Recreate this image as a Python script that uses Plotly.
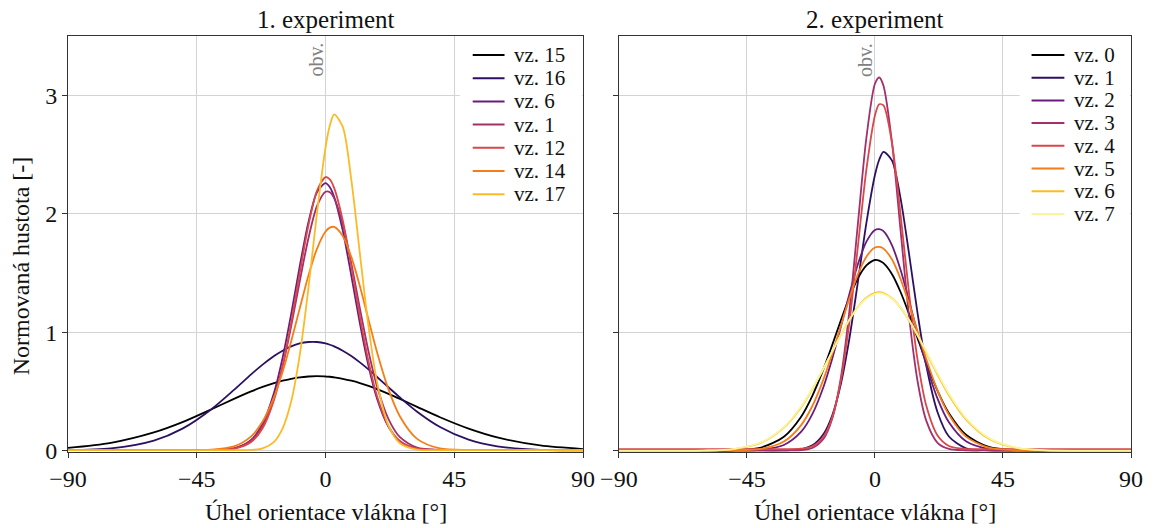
import plotly.graph_objects as go

# ---- data ----
angles = [-90, -75, -60, -50, -40, -32, -26, -22, -18, -15, -12, -9, -6, -3, 0, 1.5,
          3, 6, 9, 12, 15, 18, 22, 26, 32, 40, 50, 60, 75, 90]

# 1. experiment
names1 = ["vz. 15", "vz. 16", "vz. 6", "vz. 1", "vz. 12", "vz. 14", "vz. 17"]
vz15 = [0.024, 0.067, 0.155, 0.242, 0.349, 0.438, 0.501, 0.539, 0.572, 0.592, 0.608, 0.620, 0.627, 0.630, 0.627, 0.625,
        0.620, 0.608, 0.592, 0.572, 0.548, 0.521, 0.481, 0.438, 0.371, 0.283, 0.187, 0.113, 0.045, 0.015]
vz16 = [0.006, 0.020, 0.086, 0.187, 0.349, 0.514, 0.645, 0.727, 0.800, 0.845, 0.881, 0.906, 0.918, 0.918, 0.906, 0.895,
        0.881, 0.845, 0.800, 0.746, 0.687, 0.623, 0.536, 0.450, 0.330, 0.201, 0.094, 0.038, 0.008, 0.004]
vz6a = [0.006, 0.006, 0.006, 0.006, 0.007, 0.020, 0.092, 0.228, 0.490, 0.786, 1.156, 1.560, 1.927, 2.181, 2.259, 2.224,
        2.143, 1.860, 1.479, 1.076, 0.718, 0.440, 0.202, 0.080, 0.018, 0.007, 0.006, 0.006, 0.006, 0.006]
vz1a = [0.006, 0.006, 0.006, 0.006, 0.007, 0.020, 0.087, 0.211, 0.446, 0.714, 1.053, 1.432, 1.792, 2.064, 2.186, 2.182,
        2.132, 1.914, 1.581, 1.201, 0.840, 0.542, 0.267, 0.115, 0.027, 0.008, 0.006, 0.006, 0.006, 0.006]
vz12 = [0.006, 0.006, 0.006, 0.006, 0.007, 0.017, 0.074, 0.191, 0.430, 0.714, 1.083, 1.501, 1.900, 2.193, 2.310, 2.290,
        2.219, 1.946, 1.556, 1.135, 0.756, 0.461, 0.208, 0.081, 0.018, 0.007, 0.006, 0.006, 0.006, 0.006]
vz14 = [0.006, 0.006, 0.006, 0.006, 0.010, 0.037, 0.122, 0.247, 0.453, 0.667, 0.924, 1.204, 1.478, 1.704, 1.850, 1.883,
        1.889, 1.813, 1.636, 1.389, 1.108, 0.832, 0.518, 0.290, 0.101, 0.020, 0.007, 0.006, 0.006, 0.006]
vz17 = [0.006, 0.006, 0.006, 0.006, 0.006, 0.006, 0.008, 0.020, 0.076, 0.190, 0.418, 0.810, 1.368, 2.006, 2.561, 2.744,
        2.839, 2.735, 2.288, 1.664, 1.051, 0.580, 0.212, 0.064, 0.010, 0.006, 0.006, 0.006, 0.006, 0.006]
series1 = [vz15, vz16, vz6a, vz1a, vz12, vz14, vz17]

# 2. experiment
names2 = ["vz. 0", "vz. 1", "vz. 2", "vz. 3", "vz. 4", "vz. 5", "vz. 6", "vz. 7"]
vz0 = [0.003, 0.003, 0.003, 0.004, 0.028, 0.119, 0.286, 0.464, 0.695, 0.894, 1.100, 1.293, 1.455, 1.564, 1.610, 1.605,
       1.583, 1.490, 1.340, 1.153, 0.949, 0.747, 0.506, 0.317, 0.135, 0.033, 0.005, 0.003, 0.003, 0.003]
vz1b = [0.003, 0.003, 0.003, 0.003, 0.003, 0.004, 0.013, 0.046, 0.144, 0.300, 0.562, 0.945, 1.424, 1.923, 2.327, 2.456,
        2.522, 2.449, 2.130, 1.660, 1.158, 0.724, 0.326, 0.121, 0.021, 0.004, 0.003, 0.003, 0.003, 0.003]
vz2 = [0.003, 0.003, 0.003, 0.003, 0.009, 0.049, 0.159, 0.310, 0.545, 0.778, 1.045, 1.321, 1.574, 1.765, 1.864, 1.870,
       1.853, 1.734, 1.527, 1.267, 0.989, 0.728, 0.440, 0.240, 0.080, 0.015, 0.004, 0.003, 0.003, 0.003]
vz3 = [0.003, 0.003, 0.003, 0.003, 0.003, 0.003, 0.006, 0.024, 0.104, 0.273, 0.614, 1.176, 1.913, 2.642, 3.097, 3.150,
       3.080, 2.600, 1.862, 1.132, 0.585, 0.257, 0.068, 0.016, 0.004, 0.003, 0.003, 0.003, 0.003, 0.003]
vz4 = [0.015, 0.015, 0.015, 0.015, 0.015, 0.015, 0.018, 0.039, 0.121, 0.282, 0.590, 1.082, 1.723, 2.375, 2.830, 2.924,
       2.914, 2.593, 1.993, 1.326, 0.765, 0.384, 0.129, 0.041, 0.015, 0.015, 0.015, 0.015, 0.015, 0.015]
vz5 = [0.003, 0.003, 0.003, 0.004, 0.016, 0.078, 0.215, 0.378, 0.609, 0.821, 1.053, 1.284, 1.488, 1.638, 1.715, 1.720,
       1.706, 1.614, 1.450, 1.239, 1.006, 0.777, 0.508, 0.304, 0.120, 0.026, 0.004, 0.003, 0.003, 0.003]
vz6b = [0.000, 0.000, 0.002, 0.013, 0.068, 0.195, 0.366, 0.520, 0.697, 0.838, 0.978, 1.107, 1.213, 1.291, 1.332, 1.338,
        1.330, 1.287, 1.208, 1.100, 0.970, 0.829, 0.642, 0.469, 0.265, 0.102, 0.022, 0.003, 0.000, 0.000]
vz7 = [0.000, 0.000, 0.002, 0.015, 0.072, 0.200, 0.371, 0.523, 0.699, 0.839, 0.977, 1.104, 1.209, 1.285, 1.325, 1.330,
       1.325, 1.285, 1.209, 1.104, 0.977, 0.839, 0.654, 0.482, 0.276, 0.109, 0.025, 0.004, 0.000, 0.000]
series2 = [vz0, vz1b, vz2, vz3, vz4, vz5, vz6b, vz7]

palette = ["#000000", "#2c1162", "#6a1c7c", "#a2306b", "#d8474a", "#f57d17", "#fbbb26", "#f9f59a"]
colors1 = palette[:7]
colors2 = palette[:8]

x_tickvals = [-90, -45, 0, 45, 90]
x_ticktext = ["\u221290", "\u221245", "0", "45", "90"]
y_tickvals = [0, 1, 2, 3]

FONT = "Liberation Serif"
TXT = "#111111"

# page geometry (the page body margin is removed by a small post script)
W, H = 1155, 528
ML, MR, MT, MB = 68, 18, 36, 76
PW, PH = W - ML - MR, H - MT - MB


def px(X):  # window pixel -> paper x
    return (X - ML) / PW


def py(Y):  # window pixel -> paper y
    return 1 - (Y - MT) / PH


fig = go.Figure()
for name, ys, col in zip(names1, series1, colors1):
    fig.add_trace(go.Scatter(x=angles, y=ys, mode="lines", name=name, showlegend=False,
                             line=dict(color=col, width=1.8, shape="spline", smoothing=0.8),
                             xaxis="x", yaxis="y"))
for name, ys, col in zip(names2, series2, colors2):
    fig.add_trace(go.Scatter(x=angles, y=ys, mode="lines", name=name, showlegend=False,
                             line=dict(color=col, width=1.8, shape="spline", smoothing=0.8),
                             xaxis="x2", yaxis="y2"))

L_DOM = [0.0, px(586)]
R_DOM = [px(622), 1.0]

axis_common = dict(showgrid=True, gridcolor="#d3d3d3", gridwidth=1, showline=True, linecolor="#333333",
                   linewidth=1, mirror=True, ticks="outside", ticklen=5, tickcolor="#333333", zeroline=False,
                   tickfont=dict(family=FONT, size=24, color=TXT))

fig.update_layout(
    width=W, height=H,
    margin=dict(l=ML, r=MR, t=MT, b=MB),
    paper_bgcolor="white", plot_bgcolor="white",
    font=dict(family=FONT, color=TXT),
    showlegend=False,
    hovermode=False,
    xaxis=dict(domain=L_DOM, range=[-90, 90], tickvals=x_tickvals, ticktext=x_ticktext, anchor="y", **axis_common),
    yaxis=dict(domain=[0, 1], range=[-0.01, 3.5], tickvals=y_tickvals, anchor="x", **axis_common),
    xaxis2=dict(domain=R_DOM, range=[-90, 90], tickvals=x_tickvals, ticktext=x_ticktext, anchor="y2", **axis_common),
    yaxis2=dict(domain=[0, 1], range=[-0.01, 3.5], tickvals=y_tickvals, showticklabels=False, anchor="x2",
                **axis_common),
)

ann = []
shapes = []

# panel titles, axis titles, "obv." marks
for dom, title, xr in [(L_DOM, "1. experiment", "x"), (R_DOM, "2. experiment", "x2")]:
    mid = (dom[0] + dom[1]) / 2
    ann.append(dict(x=mid, y=py(20), xref="paper", yref="paper", text=title, showarrow=False,
                    font=dict(family=FONT, size=25, color=TXT), xanchor="center", yanchor="middle"))
    ann.append(dict(x=mid, y=py(512), xref="paper", yref="paper", text="Úhel orientace vlákna [°]",
                    showarrow=False, font=dict(family=FONT, size=24, color=TXT),
                    xanchor="center", yanchor="middle"))
    ann.append(dict(x=0, y=py(60), xref=xr, yref="paper", text="obv.", showarrow=False, textangle=-90,
                    xshift=-10, font=dict(family=FONT, size=20, color="#808080"),
                    xanchor="center", yanchor="middle"))
ann.append(dict(x=px(21), y=py(266), xref="paper", yref="paper", text="Normovaná hustota [-]", showarrow=False,
                textangle=-90, font=dict(family=FONT, size=24, color=TXT),
                xanchor="center", yanchor="middle"))

# hand-drawn legends (compact, like the reference)
legend_specs = [
    (names1, colors1, (462, 585, 37, 208), (475, 507, 515), 55.0, 23.2),
    (names2, colors2, (1025, 1136, 37, 226), (1037, 1070, 1078), 55.0, 22.7),
]
for names, cols, box, lx, y0, dy in legend_specs:
    shapes.append(dict(type="rect", xref="paper", yref="paper", x0=px(box[0]), x1=px(box[1]),
                       y0=py(box[3]), y1=py(box[2]), fillcolor="white", line=dict(width=0), layer="above"))
    for k, (nm, col) in enumerate(zip(names, cols)):
        Y = y0 + dy * k
        shapes.append(dict(type="line", xref="paper", yref="paper", x0=px(lx[0]), x1=px(lx[1]),
                           y0=py(Y), y1=py(Y), line=dict(color=col, width=2), layer="above"))
        ann.append(dict(x=px(lx[2]), y=py(Y), xref="paper", yref="paper", text=nm, showarrow=False,
                        font=dict(family=FONT, size=21, color=TXT), xanchor="left", yanchor="middle"))

fig.update_layout(annotations=ann, shapes=shapes)

fig.write_html("out.html", config={"displayModeBar": False},
               post_script="document.body.style.margin='0px';")
